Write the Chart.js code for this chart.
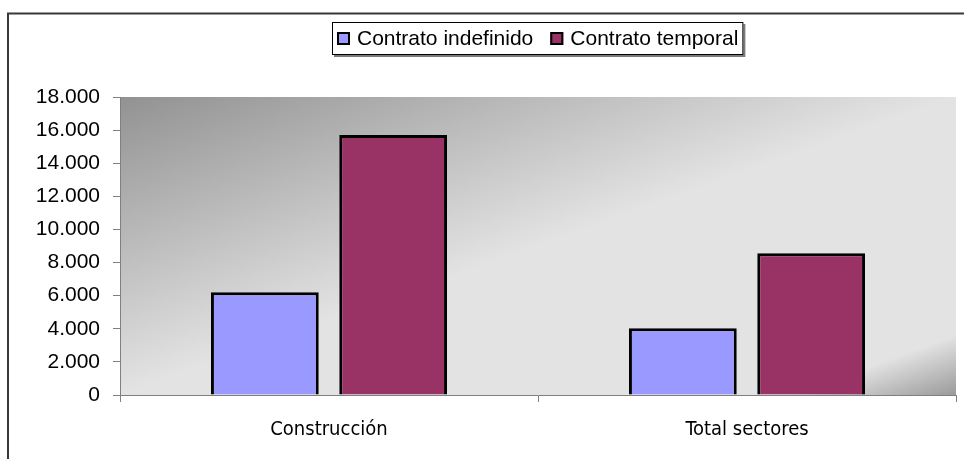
<!DOCTYPE html>
<html>
<head>
<meta charset="utf-8">
<script src="https://cdn.jsdelivr.net/npm/chart.js@4.4.1/dist/chart.umd.min.js"></script>
<style>
  html, body { margin: 0; padding: 0; background: #fff; }
</style>
</head>
<body>
<canvas id="contratosChart" width="964" height="459"></canvas>
<script>
// datos
const categories = ["Construcción", "Total sectores"];
const seriesNames = ["Contrato indefinido", "Contrato temporal"];
const indefinido = [6200, 4030];
const temporal = [15700, 8560];
const yMax = 18000;
const yStep = 2000;

const seriesColors = ["#9999FF", "#993366"];

function fmtMiles(v) {
  return String(v).replace(/\B(?=(\d{3})+(?!\d))/g, ".");
}

// marco + fondo degradado del área de trazado
const fondoPlugin = {
  id: "fondo",
  beforeDraw(chart) {
    const ctx = chart.ctx;
    const a = chart.chartArea;
    ctx.save();
    ctx.fillStyle = "#fff";
    ctx.fillRect(0, 0, chart.width, chart.height);

    ctx.strokeStyle = "#383838";
    ctx.lineWidth = 2;
    ctx.beginPath();
    ctx.moveTo(8, chart.height);
    ctx.lineTo(8, 13.5);
    ctx.lineTo(chart.width, 13.5);
    ctx.stroke();

    const w = a.right - a.left;
    const h = a.bottom - a.top;
    const L = Math.hypot(w, h);
    const d = (2 * w * h) / L;
    const grad = ctx.createLinearGradient(a.left, a.top, a.left + (h / L) * d, a.top + (w / L) * d);
    grad.addColorStop(0, "#929292");
    grad.addColorStop(0.5, "#e3e3e3");
    grad.addColorStop(0.9, "#e3e3e3");
    grad.addColorStop(1, "#9a9a9a");
    ctx.fillStyle = grad;
    ctx.fillRect(a.left, a.top, w, h);
    ctx.restore();
  }
};

// leyenda con recuadro
const leyendaPlugin = {
  id: "leyenda",
  afterDraw(chart) {
    const ctx = chart.ctx;
    const a = chart.chartArea;
    ctx.save();
    ctx.font = "21px 'Liberation Sans', Arial, sans-serif";
    const pad = 5, sq = 13, gap = 7, between = 17;
    const items = chart.data.datasets.map(ds => ({
      label: ds.label,
      color: ds.backgroundColor,
      w: ctx.measureText(ds.label).width
    }));
    let total = pad * 2 + between * (items.length - 1);
    items.forEach(it => { total += sq + gap + it.w; });
    const top = 22, height = 33;
    const left = Math.round((a.left + a.right) / 2 - total / 2);

    ctx.fillStyle = "#7a7a7a";
    ctx.fillRect(left + 2, top + 2, total, height);
    ctx.fillStyle = "#fff";
    ctx.fillRect(left, top, total, height);
    ctx.strokeStyle = "#000";
    ctx.lineWidth = 1;
    ctx.strokeRect(left + 0.5, top + 0.5, total - 1, height - 1);

    const cy = top + height / 2;
    let x = left + pad;
    items.forEach(it => {
      ctx.fillStyle = it.color;
      ctx.fillRect(x, cy - sq / 2, sq, sq);
      ctx.strokeStyle = "#000";
      ctx.lineWidth = 2;
      ctx.strokeRect(x + 1, cy - sq / 2 + 1, sq - 2, sq - 2);
      x += sq + gap;
      ctx.fillStyle = "#000";
      ctx.textBaseline = "middle";
      ctx.textAlign = "left";
      ctx.fillText(it.label, x, cy + 1);
      x += it.w + between;
    });
    ctx.restore();
  }
};

Chart.defaults.font.family = "'Liberation Sans', Arial, sans-serif";
Chart.defaults.font.size = 21;
Chart.defaults.color = "#000";

new Chart(document.getElementById("contratosChart"), {
  type: "bar",
  data: {
    labels: categories,
    datasets: [
      {
        label: seriesNames[0],
        data: indefinido,
        backgroundColor: seriesColors[0],
        borderColor: "#000",
        borderWidth: 3,
        categoryPercentage: 0.614,
        barPercentage: 0.84
      },
      {
        label: seriesNames[1],
        data: temporal,
        backgroundColor: seriesColors[1],
        borderColor: "#000",
        borderWidth: 3,
        categoryPercentage: 0.614,
        barPercentage: 0.84
      }
    ]
  },
  options: {
    responsive: false,
    animation: false,
    layout: { padding: { left: 0, right: 8, top: 97, bottom: 0 } },
    plugins: {
      legend: { display: false },
      tooltip: { enabled: false }
    },
    scales: {
      x: {
        grid: { drawOnChartArea: false, offset: true, tickLength: 7, color: "#808080" },
        border: { color: "#808080" },
        ticks: {
          padding: 16,
          font: { family: "'DejaVu Sans Condensed', 'DejaVu Sans', sans-serif", size: 20 }
        },
        afterFit(scale) { scale.height = 64; }
      },
      y: {
        min: 0,
        max: yMax,
        grid: { drawOnChartArea: false, tickLength: 7, color: "#808080" },
        border: { color: "#808080" },
        ticks: {
          stepSize: yStep,
          padding: 13,
          callback: v => fmtMiles(v)
        },
        afterFit(scale) { scale.width = 120; }
      }
    }
  },
  plugins: [fondoPlugin, leyendaPlugin]
});
</script>
</body>
</html>
